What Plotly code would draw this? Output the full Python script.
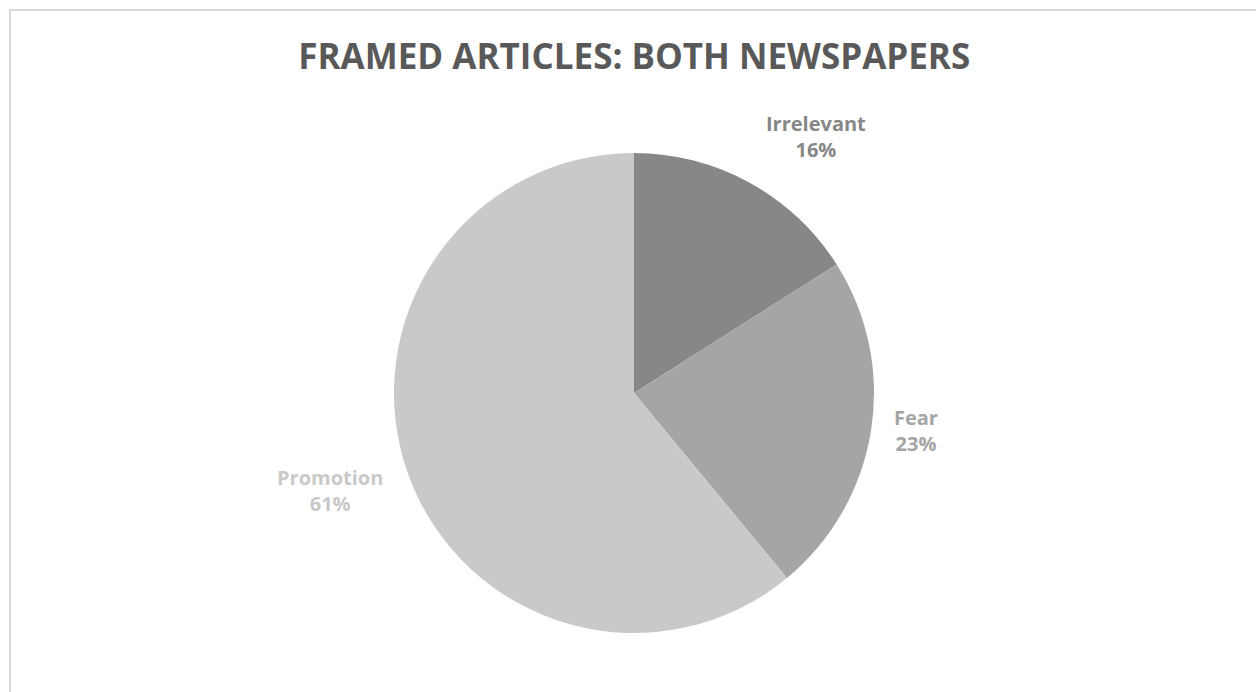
import math
import plotly.graph_objects as go

labels = ["Irrelevant", "Fear", "Promotion"]
values = [16, 23, 61]
colors = ["#878787", "#a5a5a5", "#c9c9c9"]

W, H = 1256, 692
cx, cy, R = 634, 393, 240
# label placement (layout only): extra angle in degrees, radius as fraction of R
label_place = {"Irrelevant": (6.5, 1.31), "Fear": (-1.5, 1.185), "Promotion": (2.0, 1.33)}

fig = go.Figure()
fig.add_trace(go.Pie(
    labels=labels, values=values, sort=False, direction="clockwise", rotation=0,
    marker=dict(colors=colors, line=dict(width=0)),
    textinfo="none", hoverinfo="label+percent", showlegend=False,
    domain=dict(x=[(cx - R) / W, (cx + R) / W], y=[(H - cy - R) / H, (H - cy + R) / H]),
))

total = sum(values)
cum = 0
for lab, v, col in zip(labels, values, colors):
    da, lr = label_place[lab]
    mid = (cum + v / 2) / total * 2 * math.pi + math.radians(da)
    cum += v
    x = cx + R * lr * math.sin(mid)
    y = cy - R * lr * math.cos(mid)
    fig.add_annotation(
        x=x / W, y=1 - y / H, xref="paper", yref="paper",
        text=f"{lab}<br>{round(v / total * 100)}%", showarrow=False,
        font=dict(family="Open Sans", size=20, color=col, weight="bold"),
        align="center", xanchor="center", yanchor="middle",
    )

fig.add_shape(type="rect", xref="paper", yref="paper",
              x0=10 / W, x1=1.02, y0=-0.02, y1=1 - 10 / H,
              line=dict(color="#d9d9d9", width=2))

fig.update_layout(
    width=W, height=H, margin=dict(l=0, r=0, t=0, b=0),
    paper_bgcolor="white", plot_bgcolor="white",
    title=dict(text="FRAMED ARTICLES: BOTH NEWSPAPERS", x=0.505, xanchor="center",
               y=1 - 57 / H, yanchor="middle",
               font=dict(family="Open Sans", size=35, color="#595959", weight="bold")),
)

fig.write_html("out.html")
